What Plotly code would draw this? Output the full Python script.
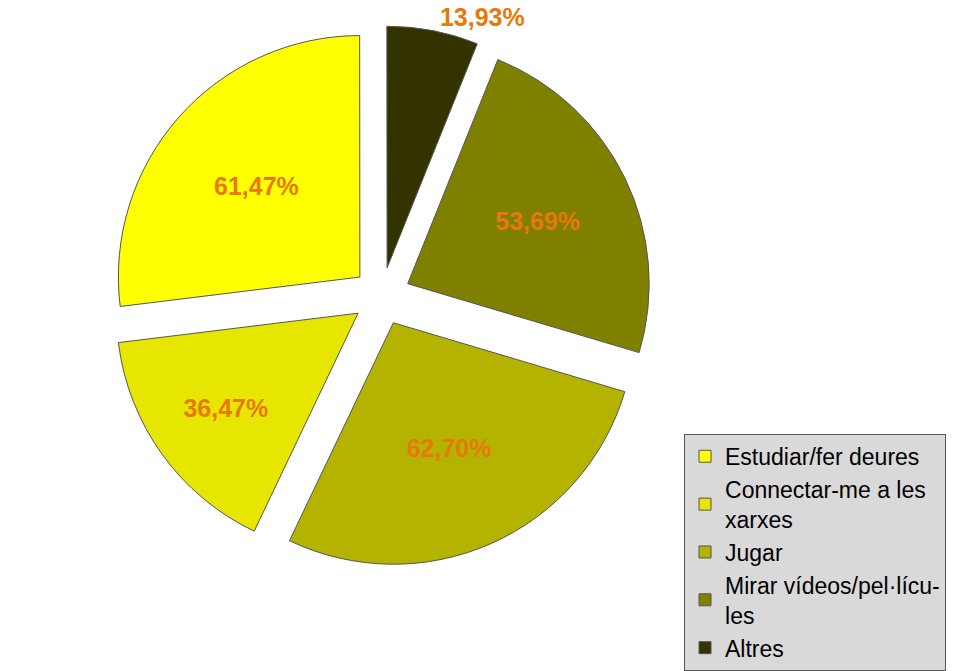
import plotly.graph_objects as go

categories = ["Estudiar/fer deures", "Connectar-me a les<br>xarxes", "Jugar",
              "Mirar vídeos/pel·lícu-<br>les", "Altres"]
values = [61.47, 36.47, 62.70, 53.69, 13.93]
value_labels = ["61,47%", "36,47%", "62,70%", "53,69%", "13,93%"]
colors = ["#ffff00", "#e6e600", "#b3b300", "#808000", "#333300"]

label_font = dict(family="Liberation Sans", size=25, color="#e8780a", weight="bold")

fig = go.Figure(go.Pie(
    labels=categories,
    values=values,
    text=value_labels,
    textinfo="text",
    textposition=["inside", "inside", "inside", "inside", "outside"],
    insidetextorientation="horizontal",
    textfont=label_font,
    outsidetextfont=label_font,
    marker=dict(colors=colors, line=dict(color="#555555", width=1)),
    sort=False,
    direction="counterclockwise",
    rotation=-97,
    pull=[0.12, 0.12, 0.12, 0.12, 0.12],
    hole=0,
    automargin=False,
    domain=dict(x=[0.0, 0.8], y=[0.12, 0.96]),
))

fig.update_layout(
    width=954, height=671,
    margin=dict(l=0, r=0, t=0, b=0),
    paper_bgcolor="white",
    plot_bgcolor="white",
    font=dict(family="Liberation Sans", size=23, color="black"),
    legend=dict(
        x=0.717, y=1 - 452 / 671, xanchor="left", yanchor="top",
        bgcolor="#d9d9d9", bordercolor="#555555", borderwidth=1,
        font=dict(size=23), itemwidth=30, tracegroupgap=0,
    ),
    showlegend=True,
)

fig.write_html("out.html")
